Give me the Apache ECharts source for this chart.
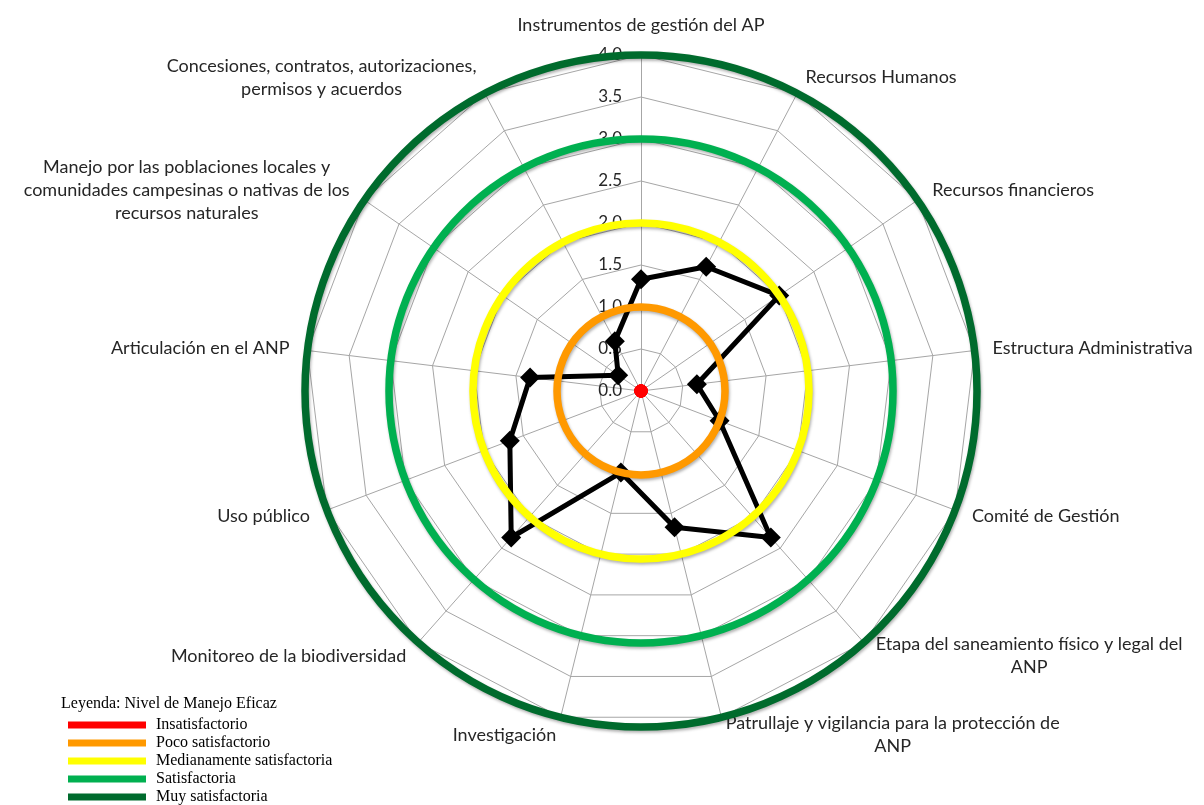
<!DOCTYPE html>
<html>
<head>
<meta charset="utf-8">
<script src="https://cdn.jsdelivr.net/npm/echarts@6/dist/echarts.min.js"></script>
<style>
  html, body { margin: 0; padding: 0; background: #fff; }
  #chart { width: 1204px; height: 805px; }
</style>
</head>
<body>
<div id="chart"></div>
<script>
const indicatorNames = [
  'Instrumentos de gestión del AP',
  'Recursos Humanos',
  'Recursos financieros',
  'Estructura Administrativa',
  'Comité de Gestión',
  'Etapa del saneamiento físico y legal del\nANP',
  'Patrullaje y vigilancia para la protección de\nANP',
  'Investigación',
  'Monitoreo de la biodiversidad',
  'Uso público',
  'Articulación en el ANP',
  'Manejo por las poblaciones locales y\ncomunidades campesinas o nativas de los\nrecursos naturales',
  'Concesiones, contratos, autorizaciones,\npermisos y acuerdos'
]
const scores = [1.33, 1.67, 2.0, 0.67, 1.0, 2.33, 1.67, 1.0, 2.33, 1.67, 1.33, 0.33, 0.67]

const levelNames = ['Insatisfactorio', 'Poco satisfactorio', 'Medianamente satisfactoria', 'Satisfactoria', 'Muy satisfactoria']
const levelValues = [0, 1, 2, 3, 4]
const levelColors = ['#ff0000', '#ff9900', '#ffff00', '#00b050', '#006b2d']

const axisMax = 4
const center = [641, 391]
const radius = 336
const nameFont = 'Lato'
const nameSize = 18

// echarts radar runs counter-clockwise, excel goes clockwise -> reorder
const n = indicatorNames.length
const order = indicatorNames.map((_, i) => (n - i) % n)
const pick = (arr) => order.map(i => arr[i])

const chart = echarts.init(document.getElementById('chart'))

const levelSeries = levelNames.map((name, i) => ({
  name: name,
  type: 'radar',
  symbol: i === 0 ? 'circle' : 'none',
  symbolSize: 13,
  itemStyle: { color: levelColors[i] },
  lineStyle: { opacity: 0 },
  silent: true,
  data: [{ name: name, value: pick(indicatorNames.map(() => levelValues[i])) }]
}))

chart.setOption({
  animation: false,
  backgroundColor: '#fff',
  title: {
    text: 'Leyenda: Nivel de Manejo Eficaz',
    left: 56,
    top: 691,
    textStyle: { fontFamily: 'Liberation Serif', fontSize: 16, fontWeight: 'normal', color: '#000' }
  },
  legend: {
    orient: 'vertical',
    left: 68,
    bottom: 0,
    padding: 0,
    itemWidth: 78,
    itemHeight: 7,
    itemGap: 2,
    icon: 'rect',
    selectedMode: false,
    textStyle: { fontFamily: 'Liberation Serif', fontSize: 16, color: '#000', padding: [0, 0, 0, 5] },
    data: levelNames.map((name, i) => ({ name: name, itemStyle: { color: levelColors[i], opacity: 1 } }))
  },
  radar: {
    center: center,
    radius: radius,
    startAngle: 90,
    shape: 'polygon',
    splitNumber: 8,
    nameGap: 18,
    indicator: pick(indicatorNames).map((name, i) => {
      const ind = { name: name, min: 0, max: axisMax }
      if (i > 0) ind.axisLabel = { show: false }
      return ind
    }),
    axisName: {
      color: '#262626',
      fontFamily: nameFont,
      fontSize: nameSize,
      formatter: (name) => name.split('\n').map(l => '{c|' + l + '}').join('\n'),
      rich: {
        c: { align: 'center', fontFamily: nameFont, fontSize: nameSize, color: '#262626', lineHeight: 23 }
      }
    },
    splitLine: { lineStyle: { color: '#a6a6a6', width: 1 } },
    splitArea: { show: false },
    axisLine: { lineStyle: { color: '#a6a6a6', width: 1 } },
    axisTick: { show: false },
    axisLabel: {
      show: true,
      margin: 19,
      color: '#262626',
      fontFamily: nameFont,
      fontSize: 17,
      formatter: (v) => Number(v).toFixed(1)
    }
  },
  polar: { center: center, radius: radius },
  angleAxis: { type: 'value', min: 0, max: 360, show: false },
  radiusAxis: {
    type: 'value',
    min: 0,
    max: axisMax,
    interval: 1,
    z: 10,
    axisLine: { show: false },
    axisTick: { show: false },
    axisLabel: { show: false },
    splitLine: {
      show: true,
      lineStyle: {
        color: levelColors,
        width: 7.5,
        shadowColor: 'rgba(0,0,0,0.3)',
        shadowBlur: 3,
        shadowOffsetX: 1,
        shadowOffsetY: 2
      }
    }
  },
  series: [
    {
      name: 'Puntaje',
      type: 'radar',
      symbol: 'diamond',
      symbolSize: 20,
      itemStyle: { color: '#000' },
      lineStyle: { color: '#000', width: 5 },
      data: [{ name: 'Puntaje', value: pick(scores) }]
    }
  ].concat(levelSeries)
})
</script>
</body>
</html>
